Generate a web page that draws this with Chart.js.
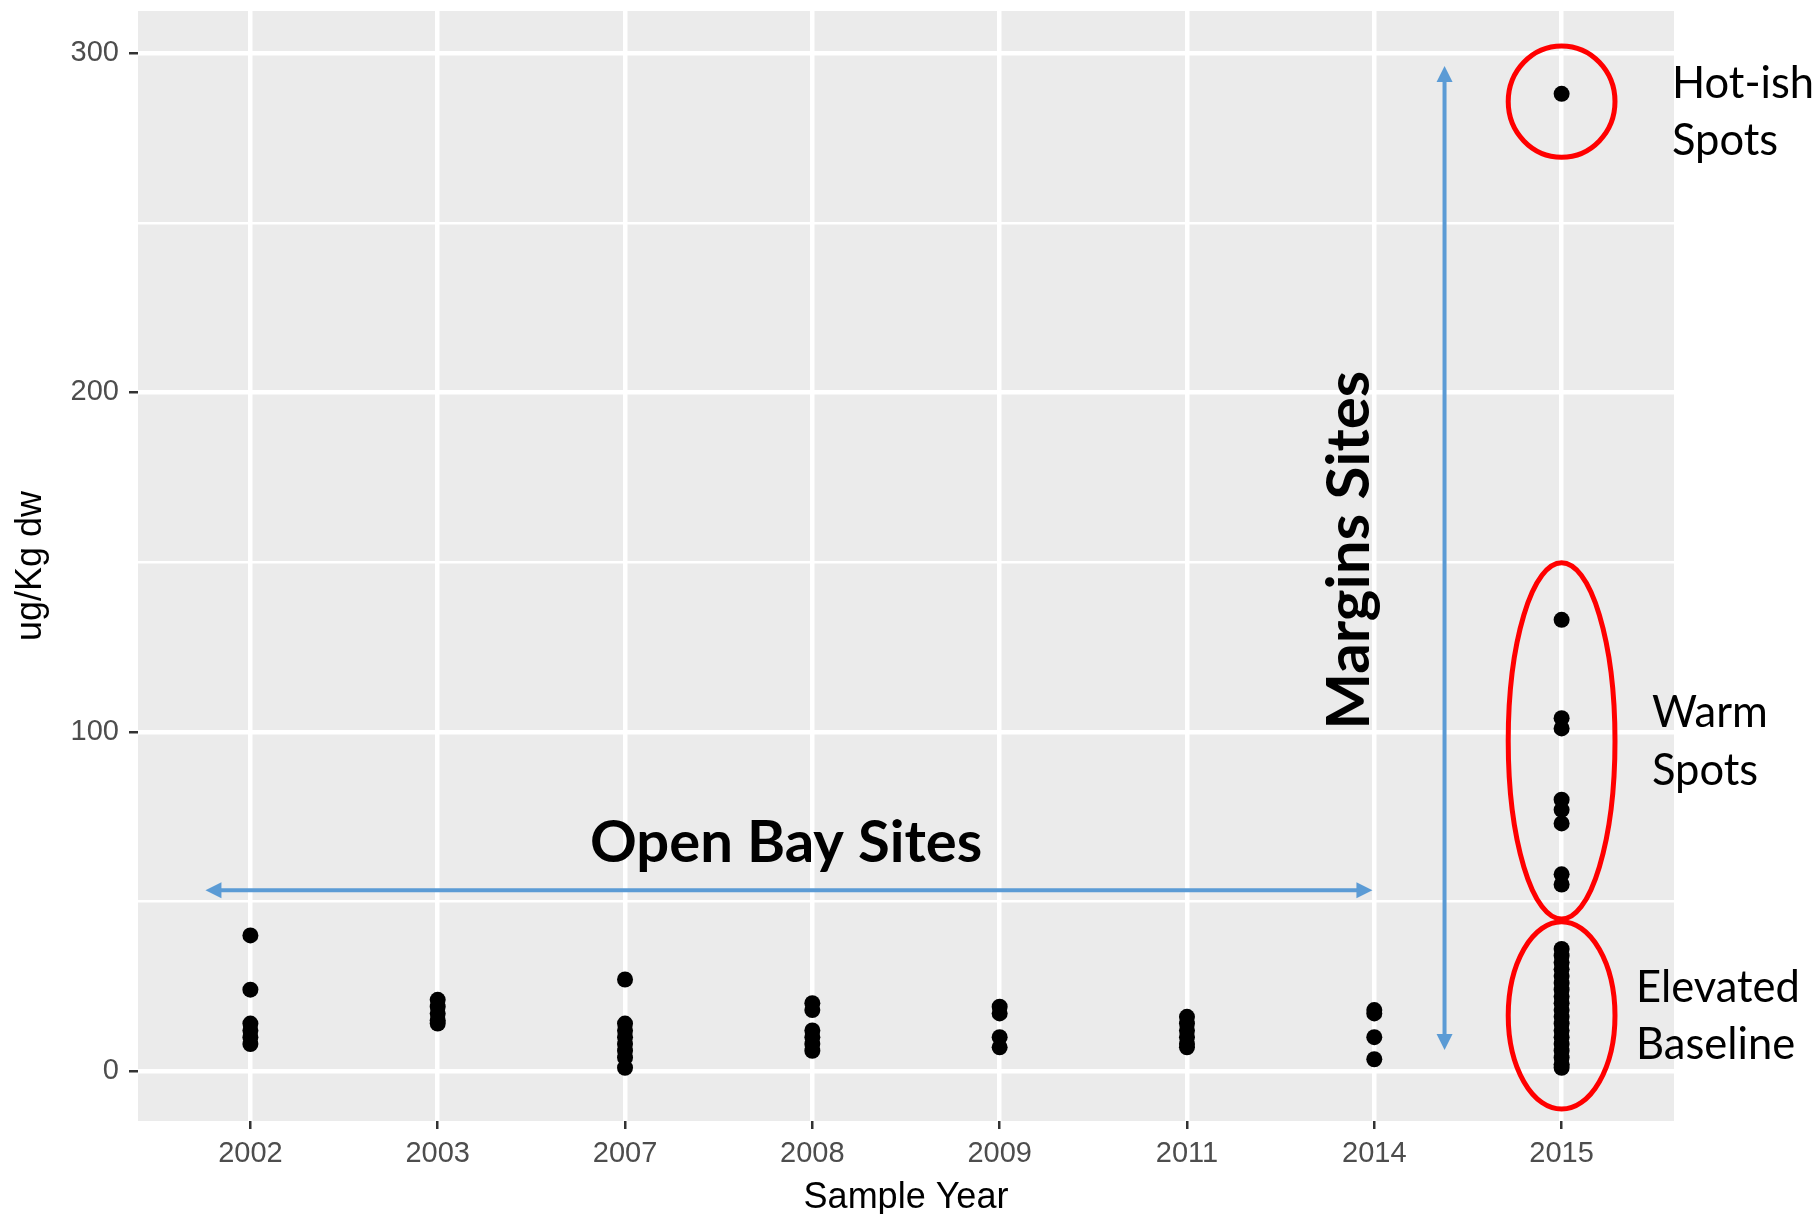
<!DOCTYPE html>
<html>
<head>
<meta charset="utf-8">
<script src="https://cdn.jsdelivr.net/npm/chart.js@4"></script>
<style>
  html, body { margin: 0; padding: 0; background: #fff; }
  #wrap { width: 1818px; height: 1214px; }
</style>
</head>
<body>
<div id="wrap"><canvas id="chart" width="1818" height="1214"></canvas></div>
<script>
// sample years (discrete x axis)
const years = ['2002', '2003', '2007', '2008', '2009', '2011', '2014', '2015'];

// ug/Kg dw per year
const v2002 = [40, 24, 14, 12, 10, 8];
const v2003 = [21, 19, 17, 15, 14];
const v2007 = [27, 14, 12, 10, 8, 6, 4, 1];
const v2008 = [20, 18, 12, 10, 8, 6];
const v2009 = [19, 17, 10, 7];
const v2011 = [16, 14, 12, 10, 8, 7];
const v2014 = [18, 17, 10, 3.5];
const v2015 = [288, 133, 104, 101, 80, 77, 73, 58, 55,
               36, 34, 32, 30, 28, 26, 24, 22, 20, 18, 16, 14, 12, 10, 8, 6, 4, 2, 1];

const yTicks = [0, 50, 100, 150, 200, 250, 300];

const byYear = [v2002, v2003, v2007, v2008, v2009, v2011, v2014, v2015];
const points = [];
byYear.forEach((vals, i) => vals.forEach(v => points.push({ x: i, y: v })));

const BLUE = '#5b9bd5';
const RED = '#ff0000';

// panel background (ggplot grey)
const panelBg = {
    id: 'panelBg',
    beforeDraw(chart) {
        const { ctx, chartArea: a } = chart;
        ctx.save();
        ctx.fillStyle = '#ebebeb';
        ctx.fillRect(a.left, a.top, a.right - a.left, a.bottom - a.top);
        ctx.restore();
    }
};

function arrowHead(ctx, x, y, dir) {
    // dir: 'up','down','left','right'
    const L = 16, W = 8;
    ctx.beginPath();
    if (dir === 'up') { ctx.moveTo(x, y); ctx.lineTo(x - W, y + L); ctx.lineTo(x + W, y + L); }
    if (dir === 'down') { ctx.moveTo(x, y); ctx.lineTo(x - W, y - L); ctx.lineTo(x + W, y - L); }
    if (dir === 'left') { ctx.moveTo(x, y); ctx.lineTo(x + L, y - W); ctx.lineTo(x + L, y + W); }
    if (dir === 'right') { ctx.moveTo(x, y); ctx.lineTo(x - L, y - W); ctx.lineTo(x - L, y + W); }
    ctx.closePath();
    ctx.fill();
}

// hand-drawn notes on top of the plot
const notes = {
    id: 'notes',
    afterDatasetsDraw(chart) {
        const { ctx, chartArea: a } = chart;
        const xs = chart.scales.x, ys = chart.scales.y;
        const px = v => xs.getPixelForValue(v);
        const py = v => ys.getPixelForValue(v);
        const unitX = px(1) - px(0);
        ctx.save();

        // red ellipses round the 2015 groups
        ctx.strokeStyle = RED;
        ctx.lineWidth = 5;
        const rings = [[285.7, 16.4], [97.3, 52.5], [16.4, 27.6]];
        rings.forEach(([cy, ry]) => {
            ctx.beginPath();
            ctx.ellipse(px(7), py(cy), unitX * 0.285, Math.abs(py(0) - py(ry)), 0, 0, Math.PI * 2);
            ctx.stroke();
        });

        // blue arrows
        ctx.strokeStyle = BLUE;
        ctx.fillStyle = BLUE;
        ctx.lineWidth = 4;
        const ax = px(6.375);
        ctx.beginPath();
        ctx.moveTo(ax, py(296.2) + 10);
        ctx.lineTo(ax, py(6.2) - 10);
        ctx.stroke();
        arrowHead(ctx, ax, py(296.2), 'up');
        arrowHead(ctx, ax, py(6.2), 'down');

        const hy = py(53.3);
        ctx.beginPath();
        ctx.moveTo(px(-0.24) + 10, hy);
        ctx.lineTo(px(5.99) - 10, hy);
        ctx.stroke();
        arrowHead(ctx, px(-0.24), hy, 'left');
        arrowHead(ctx, px(5.99), hy, 'right');

        // bold labels
        ctx.fillStyle = '#000';
        ctx.textAlign = 'center';
        ctx.textBaseline = 'middle';
        ctx.font = 'bold 58px Lato';
        ctx.fillText('Open Bay Sites', px(2.86), py(67));

        ctx.save();
        ctx.translate(px(5.87), py(153.5));
        ctx.rotate(-Math.PI / 2);
        ctx.font = 'bold 60px Lato';
        ctx.fillText('Margins Sites', 0, 0);
        ctx.restore();

        // side labels
        ctx.textAlign = 'left';
        ctx.textBaseline = 'alphabetic';
        ctx.font = '43.5px Lato';
        const side = [
            ['Hot-ish', a.right - 2, 98], ['Spots', a.right - 2, 155],
            ['Warm', a.right - 22, 727], ['Spots', a.right - 22, 785],
            ['Elevated', a.right - 38, 1002], ['Baseline', a.right - 38, 1059]
        ];
        side.forEach(([t, x, y]) => ctx.fillText(t, x, y));
        ctx.restore();
    }
};

const ctx = document.getElementById('chart').getContext('2d');
new Chart(ctx, {
    type: 'scatter',
    data: {
        datasets: [{
            data: points,
            pointRadius: 8,
            pointHoverRadius: 8,
            pointBackgroundColor: '#000',
            pointBorderWidth: 0,
        }],
    },
    options: {
        responsive: false,
        animation: false,
        events: [],
        layout: { padding: { top: 11, right: 144, left: 0, bottom: 0 } },
        plugins: { legend: { display: false }, tooltip: { enabled: false } },
        scales: {
            x: {
                type: 'linear',
                min: -0.6,
                max: 7.6,
                afterBuildTicks: s => { s.ticks = years.map((_, i) => ({ value: i })); },
                afterFit: s => { s.height = 93; s.paddingLeft = 0; s.paddingRight = 0; },
                border: { display: false },
                grid: {
                    color: '#ffffff',
                    lineWidth: 4.5,
                    tickLength: 8,
                    tickColor: '#333333',
                    tickWidth: 2.5,
                },
                ticks: {
                    callback: v => years[v],
                    color: '#4d4d4d',
                    font: { family: 'Liberation Sans', size: 29 },
                    padding: 8,
                    maxRotation: 0,
                },
                title: {
                    display: true,
                    text: 'Sample Year',
                    color: '#000',
                    font: { family: 'Liberation Sans', size: 36, lineHeight: 0.9 },
                    padding: { top: 0, bottom: 0 },
                },
            },
            y: {
                min: -14.7,
                max: 312.4,
                afterBuildTicks: s => { s.ticks = yTicks.map(v => ({ value: v })); },
                afterFit: s => { s.width = 138; s.paddingTop = 0; s.paddingBottom = 0; },
                border: { display: false },
                grid: {
                    color: '#ffffff',
                    lineWidth: c => (c.tick && c.tick.value % 100 === 0 ? 4.5 : 2.5),
                    tickLength: 9,
                    tickColor: c => (c.tick && c.tick.value % 100 === 0 ? '#333333' : 'rgba(0,0,0,0)'),
                    tickWidth: 2.5,
                },
                ticks: {
                    callback: v => (v % 100 === 0 ? String(v) : ''),
                    color: '#4d4d4d',
                    font: { family: 'Liberation Sans', size: 29 },
                    padding: 10,
                },
                title: {
                    display: true,
                    text: 'ug/Kg dw',
                    color: '#000',
                    font: { family: 'Liberation Sans', size: 36, lineHeight: 1 },
                    padding: { top: 13, bottom: 0 },
                },
            },
        },
    },
    plugins: [panelBg, notes],
});
</script>
</body>
</html>
